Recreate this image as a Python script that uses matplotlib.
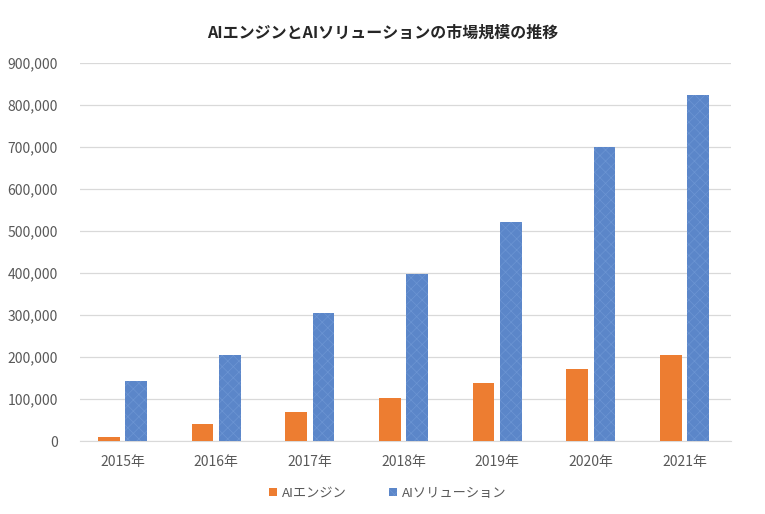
import matplotlib
matplotlib.use("Agg")
import matplotlib.pyplot as plt
import numpy as np
from matplotlib.ticker import FuncFormatter

plt.rcParams['font.family'] = ['Noto Sans CJK JP', 'DejaVu Sans']
plt.rcParams['hatch.linewidth'] = 0.5

years = ["2015年", "2016年", "2017年", "2018年", "2019年", "2020年", "2021年"]
ai_engine = [10000, 40000, 70000, 102000, 138000, 172000, 204000]
ai_solution = [143000, 204000, 305000, 397000, 521000, 700000, 825000]

title = "AIエンジンとAIソリューションの市場規模の推移"
label_engine = "AIエンジン"
label_solution = "AIソリューション"

orange = "#ED7D31"
blue = "#5B86C9"
text_gray = "#595959"

fig = plt.figure(figsize=(7.65, 5.14), dpi=100)
ax = fig.add_axes([0.105, 0.142, 0.851, 0.735])

x = np.arange(len(years))
w = 0.23
off = 0.145
ax.bar(x - off, ai_engine, width=w, color=orange, label=label_engine, zorder=3)
ax.bar(x + off, ai_solution, width=w, color=blue, edgecolor="#6C95D3",
       linewidth=0, hatch="xxx", label=label_solution, zorder=3)

ax.set_xlim(-0.45, len(years) - 0.5)
ax.set_ylim(0, 900000)
ax.set_yticks(np.arange(0, 900001, 100000))
ax.yaxis.set_major_formatter(FuncFormatter(lambda v, p: f"{int(v):,}"))
ax.set_xticks(x)
ax.set_xticklabels(years)

ax.grid(axis="y", color="#D9D9D9", linewidth=0.9, zorder=0)
for s in ["top", "right", "left"]:
    ax.spines[s].set_visible(False)
ax.spines["bottom"].set_color("#D9D9D9")
ax.tick_params(axis="y", length=0, colors=text_gray, labelsize=10, pad=16)
ax.tick_params(axis="x", length=0, colors=text_gray, labelsize=10, pad=10)

fig.text(0.5, 0.937, title, ha="center", va="center", fontsize=11.5,
         fontweight="bold", color="#262626")

leg = fig.legend(loc="center", bbox_to_anchor=(0.507, 0.04), ncol=2, frameon=False,
                 fontsize=9.5, handlelength=0.6, handleheight=0.6,
                 handletextpad=0.4, columnspacing=3.2)
for t in leg.get_texts():
    t.set_color(text_gray)

fig.savefig("out.png", dpi=100, facecolor="white")
